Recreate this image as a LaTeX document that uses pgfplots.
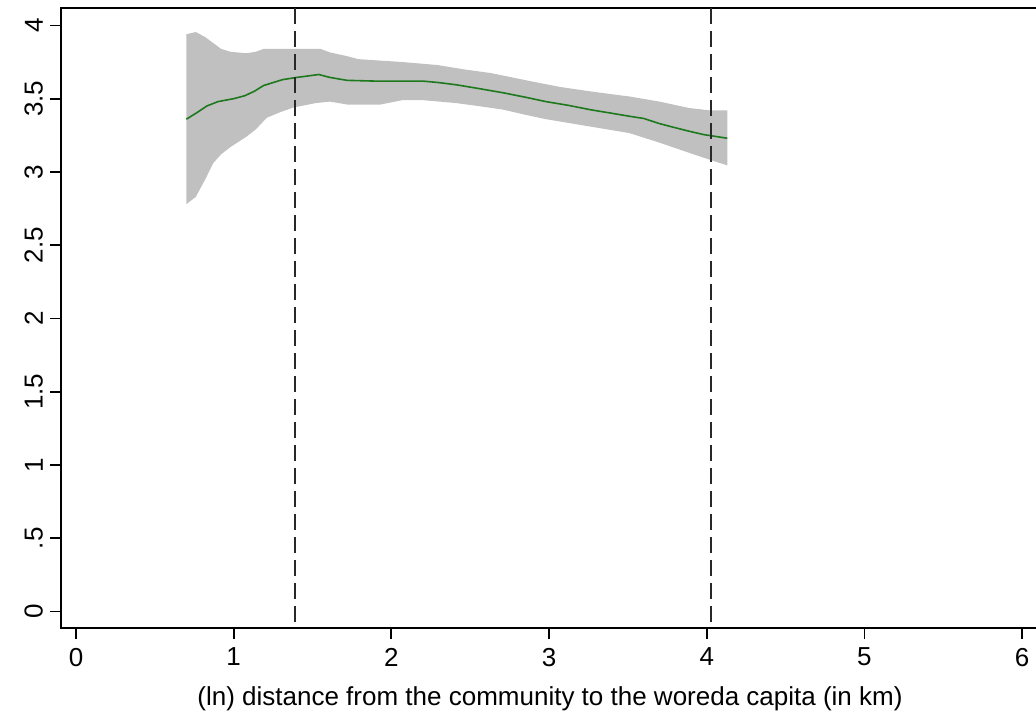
\documentclass[border=0pt]{standalone}
\usepackage{fontspec}
\setmainfont{Liberation Sans}
\usepackage{pgfplots}
\pgfplotsset{compat=1.18}
\definecolor{band}{RGB}{192,192,192}
\definecolor{fitgreen}{RGB}{30,120,30}
\definecolor{vline}{RGB}{40,40,40}
\newcommand{\lbl}{\fontsize{13}{15}\selectfont}
\begin{document}
\begin{tikzpicture}
\begin{axis}[
  at={(30.5pt,47.5pt)}, anchor=south west,
  scale only axis,
  width=489pt, height=310pt,
  xmin=-0.095, xmax=6.107,
  ymin=-0.113, ymax=4.119,
  xtick={0,1,2,3,4,5,6},
  xticklabels={0,1,2,3,4,5,6},
  ytick={0,0.5,1,1.5,2,2.5,3,3.5,4},
  yticklabels={0,.5,1,1.5,2,2.5,3,3.5,4},
  tick align=outside,
  major tick length=5.5pt,
  tick style={line width=0.9pt, black},
  xtick pos=bottom, ytick pos=left,
  ticklabel style={font=\lbl},
  xticklabel style={yshift=-1pt},
  yticklabel style={rotate=90, anchor=south},
  xlabel={(ln) distance from the community to the woreda capita (in km)},
  xlabel style={font=\lbl, yshift=-3pt},
  axis line style={line width=1pt, black},
  clip=true,
]
\addplot[fill=band, draw=none] coordinates {
(0.70,3.94) (0.76,3.955) (0.82,3.92) (0.87,3.88) (0.92,3.84) (0.98,3.82)
(1.08,3.81) (1.14,3.82) (1.19,3.84) (1.40,3.84) (1.55,3.84) (1.61,3.816)
(1.72,3.79) (1.79,3.77) (2.07,3.75) (2.29,3.73) (2.46,3.70) (2.63,3.675)
(2.88,3.62) (3.07,3.58) (3.26,3.55) (3.40,3.53) (3.51,3.515) (3.70,3.48)
(3.89,3.436) (4.02,3.42) (4.13,3.42)
(4.13,3.045) (4.02,3.083) (3.89,3.13) (3.70,3.20) (3.51,3.265) (3.26,3.31)
(3.12,3.335) (2.98,3.36) (2.85,3.39) (2.71,3.425) (2.55,3.45) (2.41,3.47)
(2.20,3.49) (2.07,3.49) (1.93,3.46) (1.72,3.46) (1.61,3.48) (1.52,3.47)
(1.38,3.44) (1.30,3.41) (1.21,3.37) (1.14,3.29) (1.08,3.24) (0.98,3.17)
(0.92,3.12) (0.87,3.06) (0.82,2.95) (0.76,2.83) (0.70,2.78)
} -- cycle;
\addplot[fitgreen, line width=0.8pt] coordinates {
(0.70,3.36) (0.76,3.40) (0.83,3.45) (0.90,3.48) (1.00,3.50) (1.07,3.52)
(1.13,3.55) (1.19,3.59) (1.25,3.61) (1.31,3.63) (1.40,3.645) (1.47,3.655)
(1.54,3.665) (1.61,3.645) (1.72,3.625) (1.90,3.62) (2.05,3.62) (2.20,3.62)
(2.30,3.61) (2.41,3.595) (2.55,3.57) (2.71,3.54) (2.85,3.51) (2.98,3.48)
(3.12,3.455) (3.26,3.425) (3.40,3.40) (3.51,3.38) (3.60,3.365) (3.70,3.33)
(3.77,3.31) (3.88,3.28) (3.98,3.255) (4.13,3.23)
};
\addplot[vline, line width=1pt, dash pattern=on 8pt off 3.5pt] coordinates {(1.386,4.119) (1.386,-0.113)};
\addplot[vline, line width=1pt, dash pattern=on 8pt off 3.5pt] coordinates {(4.03,4.119) (4.03,-0.113)};
\end{axis}
\draw[line width=1.4pt] (30.5pt,47.5pt) -- (519.5pt,47.5pt);
\pgfresetboundingbox
\path[use as bounding box] (0,0) rectangle (518pt,361.5pt);
\end{tikzpicture}
\end{document}
